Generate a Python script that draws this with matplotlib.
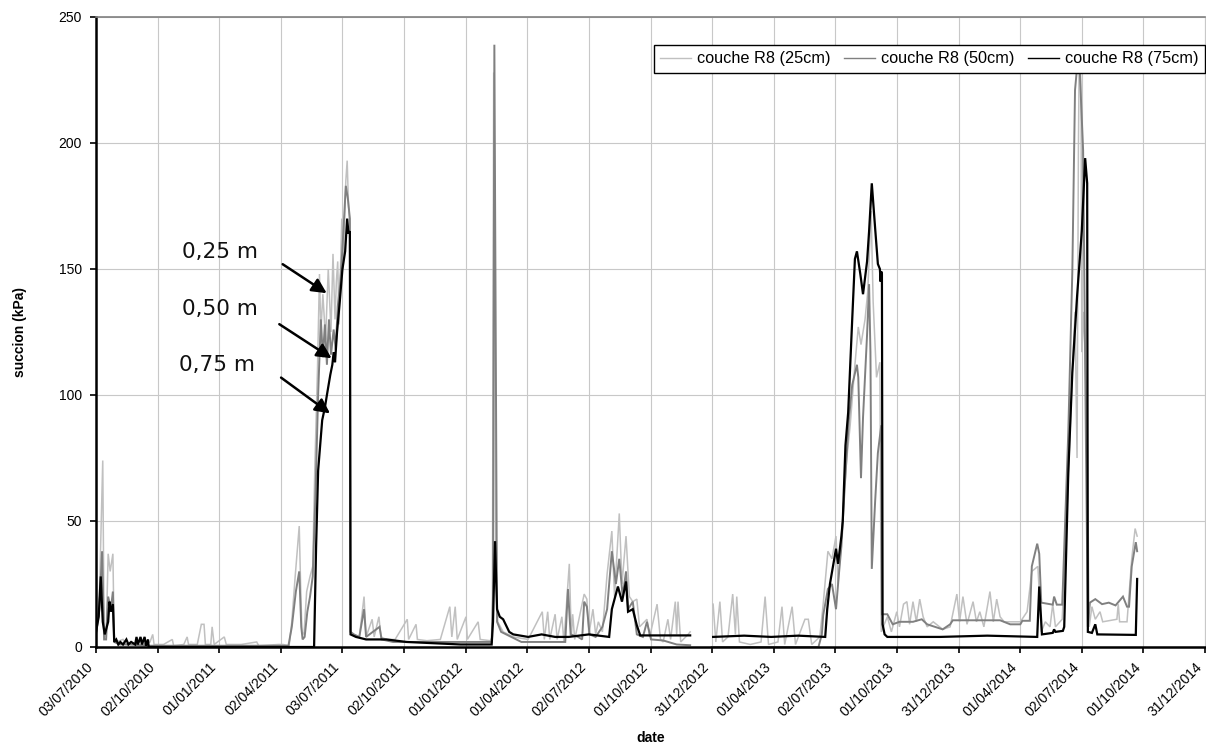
import numpy as np
import matplotlib
matplotlib.use("Agg")
import matplotlib.pyplot as plt
import matplotlib.dates as mdates
from matplotlib.transforms import ScaledTranslation

# ---------------- data ----------------
start_date = "2010-07-03"          # day 0 of the records
tick_step_days = 91.25
tick_labels = ["03/07/2010", "02/10/2010", "01/01/2011", "02/04/2011", "03/07/2011",
               "02/10/2011", "01/01/2012", "01/04/2012", "02/07/2012", "01/10/2012",
               "31/12/2012", "01/04/2013", "02/07/2013", "01/10/2013", "31/12/2013",
               "01/04/2014", "02/07/2014", "01/10/2014", "31/12/2014"]
y_ticks = [0, 50, 100, 150, 200, 250]
series_names = ["couche R8 (25cm)", "couche R8 (50cm)", "couche R8 (75cm)"]

# (days since start_date, suction kPa); None = no record
r8_25cm = [(0, 6), (5, 20), (10, 74), (12, 6), (15, 4), (18, 37), (21, 30), (25, 37), (27, 3), (30, 2),
           (40, 3), (45, 1), (52, 2), (60, 1), (68, 3), (70, 1), (80, 2), (84, 5), (86, 1), (100, 1),
           (113, 3), (115, 0.5), (130, 1), (135, 4), (137, 1), (150, 1), (156, 9), (160, 9), (162, 1),
           (170, 1), (172, 8), (175, 1), (190, 4), (193, 1), (215, 1), (238, 2), (241, 0.5), (270, 1),
           (277, 1), (286, 0.5), (290, 10), (295, 28), (301, 48), (303, 25), (305, 6), (308, 5), (312, 22),
           (317, 28), (321, 32), (324, 70), (328, 110), (331, 148), (333, 125), (336, 140), (340, 122),
           (344, 150), (348, 125), (351, 156), (354, 130), (356, 145), (358, 153), (360, 128), (364, 170),
           (366, 150), (370, 185), (372, 193), (374, 175), (376, 168), (377, 6), (381, 5), (390, 4),
           (397, 20), (400, 4), (409, 11), (412, 4), (419, 12), (422, 4), (430, 3), (443, 3), (461, 11),
           (463, 3), (474, 9), (476, 3), (490, 2.5), (510, 3), (524, 16), (527, 4), (532, 16), (535, 3),
           (548, 12), (550, 3), (566, 10), (569, 3), (584, 2.5), (587, 4), (589, 228), (592, 30), (595, 10),
           (603, 6), (618, 4), (640, 3), (661, 14), (664, 3), (669, 14), (672, 3), (680, 13), (683, 3),
           (690, 12), (693, 2), (701, 33), (704, 4), (706, 13), (709, 3), (723, 21), (727, 19), (730, 5),
           (736, 15), (740, 5), (744, 10), (750, 6), (757, 29), (764, 46), (768, 20), (775, 53), (779, 25),
           (785, 44), (790, 20), (795, 18), (801, 19), (805, 8), (816, 11), (820, 4), (831, 17), (836, 3),
           (840, 2), (847, 11), (851, 3), (858, 18), (860, 5), (862, 18), (866, 2), (877, 5), (880, 6),
           (890, None),
           (914, 17), (918, 2), (924, 18), (928, 2), (936, 4), (943, 21), (947, 5), (949, 20), (953, 2),
           (969, 1), (985, 2), (991, 20), (996, 1), (1010, 2), (1016, 16), (1020, 1), (1031, 16), (1036, 1),
           (1050, 11), (1055, 11), (1060, 1), (1072, 4), (1077, 17), (1084, 38), (1090, 35), (1096, 44),
           (1099, 25), (1103, 40), (1108, 60), (1112, 75), (1117, 88), (1124, 112), (1129, 127), (1133, 120),
           (1139, 130), (1143, 141), (1148, 173), (1151, 137), (1156, 107), (1161, 113), (1163, 6),
           (1172, 12), (1178, 6), (1186, 14), (1190, 8), (1196, 17), (1201, 18), (1205, 9), (1210, 18),
           (1215, 10), (1220, 19), (1225, 12), (1231, 8), (1240, 10), (1254, 7), (1265, 8), (1275, 21),
           (1279, 10), (1284, 20), (1290, 9), (1299, 18), (1304, 10), (1309, 14), (1315, 8), (1324, 22),
           (1329, 10), (1334, 19), (1339, 12), (1345, 10), (1354, 10), (1369, 10), (1379, 14), (1386, 30),
           (1395, 32), (1400, 6), (1406, 10), (1413, 8), (1417, 17), (1421, 8), (1431, 11), (1438, 53),
           (1446, 109), (1450, 133), (1453, 75), (1455, 197), (1456, 229), (1458, 232), (1459, 213),
           (1460, 117), (1463, 133), (1468, 85), (1471, 8), (1475, 16), (1480, 11), (1487, 14), (1491, 10),
           (1512, 11), (1514, 17), (1516, 10), (1527, 10), (1534, 35), (1539, 47), (1542, 44)]

r8_50cm = [(0, 5), (5, 15), (9, 38), (12, 3), (15, 3), (18, 20), (22, 15), (25, 22), (27, 2), (35, 1),
           (50, 1), (77, 0.5), (150, 0.5), (285, 0.5), (290, 8), (296, 22), (301, 30), (304, 8), (306, 3),
           (309, 4), (313, 14), (317, 20), (321, 28), (325, 60), (329, 100), (333, 130), (336, 115),
           (339, 128), (342, 112), (345, 130), (348, 116), (352, 126), (355, 118), (358, 135), (362, 145),
           (366, 163), (370, 183), (373, 178), (376, 170), (377, 6), (382, 5), (390, 4), (397, 15), (400, 4),
           (410, 6), (420, 8), (423, 3), (440, 2), (480, 2), (520, 2), (560, 2), (586, 2), (588, 20),
           (590, 239), (592, 120), (594, 10), (600, 6), (615, 4), (630, 2), (660, 2), (695, 2), (699, 23),
           (703, 5), (714, 4), (720, 3), (723, 18), (727, 16), (731, 5), (740, 4), (750, 8), (757, 15),
           (764, 38), (770, 25), (775, 35), (780, 20), (785, 30), (788, 15), (795, 18), (801, 5), (810, 4),
           (816, 10), (822, 3), (840, 2.6), (860, 1), (880, 0.7),
           (890, None),
           (912, 0), (1070, 0), (1075, 5), (1077, 12.6), (1084, 23), (1090, 25), (1096, 15), (1100, 28),
           (1104, 40), (1109, 64), (1115, 90), (1120, 104), (1127, 112), (1129, 107), (1133, 67), (1136, 91),
           (1142, 124), (1145, 144), (1147, 117), (1149, 31), (1154, 58), (1158, 77), (1163, 88), (1164, 13),
           (1172, 13), (1180, 9), (1190, 10), (1210, 10), (1223, 11), (1231, 9), (1254, 7), (1265, 9),
           (1269, 10.6), (1300, 10.6), (1339, 10.6), (1354, 9), (1369, 9), (1372, 10.4), (1383, 10.4),
           (1386, 32), (1394, 41), (1397, 37), (1400, 17.6), (1417, 16.8), (1419, 20), (1423, 16.8),
           (1431, 16.8), (1432, 24), (1440, 85), (1446, 149), (1450, 221), (1453, 230), (1457, 229),
           (1462, 197), (1466, 85), (1469, 8), (1472, 17.6), (1480, 19), (1490, 17), (1500, 17.6),
           (1510, 16.5), (1521, 20), (1527, 16), (1530, 16), (1534, 32), (1540, 41.6), (1542, 38)]

r8_75cm = [(0, 6), (4, 12), (7, 28), (10, 10), (13, 5), (18, 10), (20, 18), (22, 14), (25, 17), (27, 2),
           (30, 3), (33, 1), (36, 2), (40, 1), (45, 3), (48, 1), (52, 2), (58, 1), (60, 4), (62, 1), (66, 4),
           (68, 1), (72, 4), (74, 0.5), (77, 3), (78, 0), (323, 0), (326, 40), (329, 70), (335, 90),
           (339, 95), (342, 100), (347, 108), (350, 112), (352, 117), (354, 113), (357, 125), (361, 137),
           (365, 150), (369, 157), (372, 170), (374, 164), (376, 165), (377, 5), (385, 4), (400, 3),
           (430, 3), (460, 2), (500, 1.5), (540, 1), (586, 1), (588, 10), (591, 42), (594, 15), (598, 12),
           (603, 11), (612, 6), (618, 5), (640, 4), (660, 5), (680, 4), (700, 4), (730, 5), (760, 4),
           (764, 15), (773, 24), (779, 18), (785, 26), (788, 14), (795, 15), (801, 8.6), (806, 4.6),
           (840, 4.6), (880, 4.6),
           (890, None),
           (914, 4), (960, 4.5), (1000, 4), (1040, 4.5), (1080, 4), (1083, 15), (1087, 25), (1096, 39),
           (1099, 33), (1104, 44), (1106, 50), (1110, 80), (1114, 93), (1120, 130), (1124, 154), (1127, 157),
           (1132, 148), (1136, 140), (1142, 153), (1145, 165), (1149, 184), (1154, 166), (1158, 152),
           (1161, 150), (1162, 145), (1163, 149), (1164, 148), (1165, 9), (1168, 5), (1172, 4), (1250, 4),
           (1320, 4.5), (1394, 4), (1397, 24), (1401, 5), (1417, 5.6), (1419, 7), (1421, 6), (1432, 6.4),
           (1434, 8), (1440, 69), (1446, 109), (1453, 139), (1460, 165), (1465, 194), (1468, 184),
           (1469, 6), (1475, 5.6), (1480, 9), (1483, 5), (1540, 4.8), (1542, 27)]

# ---------------- figure ----------------
plt.rcParams["font.family"] = ["Liberation Sans", "DejaVu Sans"]

fig = plt.figure(figsize=(12.06, 7.5), dpi=100)
ax = fig.add_axes([96 / 1206, 103 / 750, 1109 / 1206, 630 / 750])

x0 = mdates.date2num(np.datetime64(start_date))


def to_xy(series):
    d = np.array([p[0] for p in series], dtype=float)
    v = np.array([np.nan if p[1] is None else p[1] for p in series], dtype=float)
    return x0 + d, v


styles = [dict(color="#c0c0c0", lw=1.1), dict(color="#808080", lw=1.4), dict(color="#000000", lw=1.6)]
for s, name, st in zip([r8_25cm, r8_50cm, r8_75cm], series_names, styles):
    xs, ys = to_xy(s)
    ax.plot(xs, ys, label=name, solid_joinstyle="miter", **st)

ticks = [x0 + k * tick_step_days for k in range(len(tick_labels))]
ax.set_xlim(ticks[0], ticks[-1])
ax.set_ylim(0, 250)
ax.set_xticks(ticks)
ax.set_xticklabels(tick_labels, rotation=45, ha="right", va="center", rotation_mode="anchor")
ax.set_yticks(y_ticks)

ax.grid(True, color="#c8c8c8", lw=0.8)
ax.set_axisbelow(True)

for side in ["left", "bottom"]:
    ax.spines[side].set_color("black")
    ax.spines[side].set_linewidth(1.8)
ax.spines["top"].set_color("#808080")
ax.spines["top"].set_linewidth(1.2)
ax.spines["right"].set_color("#c8c8c8")
ax.spines["right"].set_linewidth(0.8)

ax.tick_params(axis="both", direction="out", length=4, width=1.2, colors="black", labelsize=10)
ax.tick_params(axis="x", pad=8)
ax.tick_params(axis="y", pad=6)

shift = ScaledTranslation(-0.05, -0.01, fig.dpi_scale_trans)
for lab in ax.get_xticklabels():
    lab.set_transform(lab.get_transform() + shift)

ax.set_xlabel("date", fontweight="bold", fontsize=10)
ax.set_ylabel("succion (kPa)", fontweight="bold", fontsize=10)
ax.xaxis.set_label_coords(0.5, -0.133)
ax.yaxis.set_label_coords(-0.062, 0.5)

leg = ax.legend(loc="upper right", bbox_to_anchor=(1.0, (647 - 45) / 630), ncol=3, fancybox=False,
                edgecolor="black", framealpha=1, borderaxespad=0, fontsize=11.7, handlelength=1.9,
                handletextpad=0.4, columnspacing=0.8, borderpad=0.4)
leg.get_frame().set_linewidth(1.0)
for line in leg.get_lines():
    line.set_linewidth(1.0)

# depth annotations
notes = [("0,25 m", 183, 156.9, 276.5, 151.9, 341.7, 140.4),
         ("0,50 m", 183, 134.1, 271.5, 128.1, 349.0, 114.6),
         ("0,75 m", 178.5, 111.9, 274.1, 106.9, 346.6, 92.7)]
for txt, tx, ty, ax0, ay0, ax1, ay1 in notes:
    ax.text(x0 + tx, ty, txt, ha="center", va="center", fontsize=15.5, family="DejaVu Sans",
            color="#111111")
    ax.annotate("", xy=(x0 + ax1, ay1), xytext=(x0 + ax0, ay0),
                arrowprops=dict(arrowstyle="-|>", color="black", lw=1.8, mutation_scale=22,
                                shrinkA=0, shrinkB=0))

fig.savefig("out.png", dpi=100)
